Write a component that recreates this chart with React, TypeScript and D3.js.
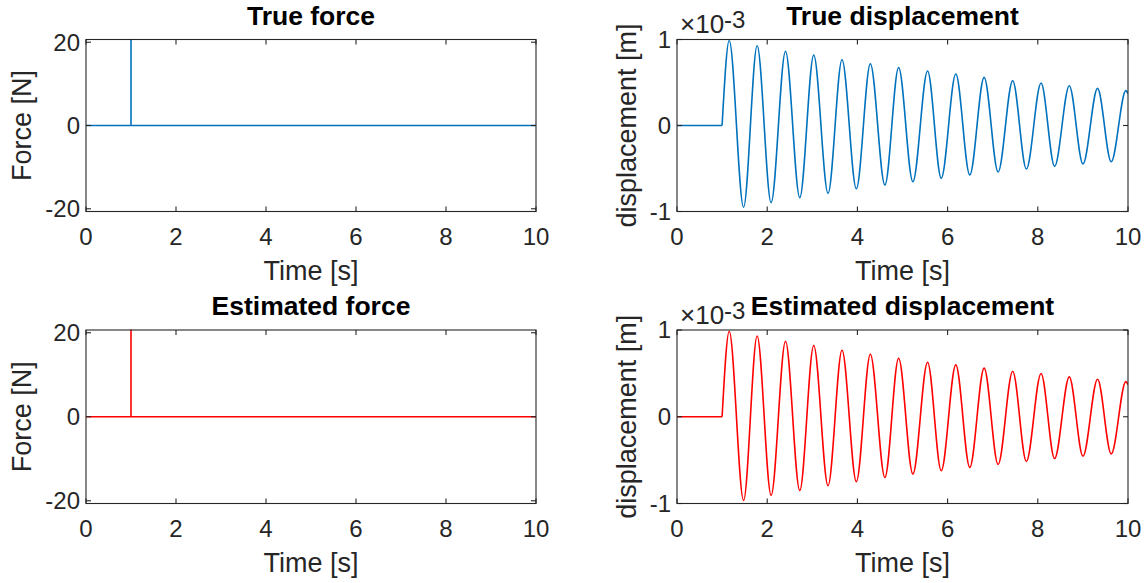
import React from 'react';
import * as d3 from 'd3';

// ---------- data ----------
const timeTicks = [0, 2, 4, 6, 8, 10];
const forceTicks = [-20, 0, 20];
const dispTicks = [-1, 0, 1]; // in units of 1e-3 m
const forceLimit = 20.65;
const dispLimit = 1;

const forceTime = [0, 1, 1, 1, 10];
const trueForce = [0, 0, 20.65, 0, 0];
const estForce = [0, 0, 20.65, 0, 0];

// extrema of the displacement response (x 1e-3 m)
const dispTime = [0, 1, 1.158, 1.476, 1.777, 2.087, 2.406, 2.722, 3.032, 3.349, 3.659, 3.977, 4.287, 4.61,
  4.914, 5.23, 5.556, 5.859, 6.182, 6.492, 6.81, 7.12, 7.443, 7.747, 8.072, 8.373, 8.698, 9.002, 9.325, 9.628, 9.953, 10];
const trueDisp = [0, 0, 0.988, -0.95, 0.927, -0.897, 0.864, -0.839, 0.818, -0.788, 0.765, -0.735, 0.718, -0.692,
  0.674, -0.654, 0.633, -0.614, 0.598, -0.576, 0.56, -0.541, 0.522, -0.506, 0.494, -0.475, 0.463, -0.448, 0.432, -0.422, 0.405, 0.37];
const estDisp = [0, 0, 0.985, -0.965, 0.931, -0.905, 0.87, -0.85, 0.821, -0.795, 0.767, -0.748, 0.721, -0.7,
  0.675, -0.66, 0.629, -0.622, 0.598, -0.584, 0.56, -0.55, 0.525, -0.515, 0.499, -0.482, 0.46, -0.455, 0.433, -0.428, 0.405, 0.37];

const FONT = "'Liberation Sans', Arial, Helvetica, sans-serif";
const AX = '#262626';

type PanelProps = {
  id: string;
  x0: number; x1: number; y0: number; y1: number;
  yLimit: number; yTicks: number[];
  t: number[]; v: number[];
  color: string; title: string; ylabel: string;
  exponent?: boolean; oscill?: boolean;
  ylabelX: number;
};

function Panel(p: PanelProps) {
  const xs = d3.scaleLinear().domain([0, 10]).range([p.x0, p.x1]);
  const ys = d3.scaleLinear().domain([-p.yLimit, p.yLimit]).range([p.y1, p.y0]);
  const pts: [number, number][] = p.t.map((tt, i) => [tt, p.v[i]]);
  let paths: string[] = [];
  if (p.oscill) {
    const flat = d3.line<[number, number]>().x(d => xs(d[0])).y(d => ys(d[1])).curve(d3.curveLinear);
    const osc = d3.line<[number, number]>().x(d => xs(d[0])).y(d => ys(d[1])).curve(d3.curveMonotoneX);
    paths = [flat(pts.slice(0, 2)) || '', osc(pts.slice(1)) || ''];
  } else {
    const ln = d3.line<[number, number]>().x(d => xs(d[0])).y(d => ys(d[1]));
    paths = [ln(pts) || ''];
  }
  const tl = 5;
  const cx = (p.x0 + p.x1) / 2;
  const cy = (p.y0 + p.y1) / 2;
  return (
    <g>
      <defs>
        <clipPath id={p.id}>
          <rect x={p.x0} y={p.y0 - 1} width={p.x1 - p.x0} height={p.y1 - p.y0 + 2} />
        </clipPath>
      </defs>
      <g clipPath={`url(#${p.id})`}>
        {paths.map((d, i) => (
          <path key={i} d={d} fill="none" stroke={p.color} strokeWidth={1.6} strokeLinejoin="round" />
        ))}
      </g>
      <rect x={p.x0} y={p.y0} width={p.x1 - p.x0} height={p.y1 - p.y0} fill="none" stroke={AX} strokeWidth={1.1} />
      {timeTicks.map(tk => (
        <g key={'x' + tk}>
          <line x1={xs(tk)} x2={xs(tk)} y1={p.y1} y2={p.y1 - tl} stroke={AX} strokeWidth={1.1} />
          <line x1={xs(tk)} x2={xs(tk)} y1={p.y0} y2={p.y0 + tl} stroke={AX} strokeWidth={1.1} />
          <text x={xs(tk)} y={p.y1 + 33} textAnchor="middle" fontFamily={FONT} fontSize={24} fill={AX}>{tk}</text>
        </g>
      ))}
      {p.yTicks.map(tk => (
        <g key={'y' + tk}>
          <line x1={p.x0} x2={p.x0 + tl} y1={ys(tk)} y2={ys(tk)} stroke={AX} strokeWidth={1.1} />
          <line x1={p.x1} x2={p.x1 - tl} y1={ys(tk)} y2={ys(tk)} stroke={AX} strokeWidth={1.1} />
          <text x={p.x0 - 6} y={ys(tk)} dy="0.35em" textAnchor="end" fontFamily={FONT} fontSize={24} fill={AX}>{tk}</text>
        </g>
      ))}
      <text x={cx} y={p.y1 + 68} textAnchor="middle" fontFamily={FONT} fontSize={27} fill={AX}>Time [s]</text>
      <text transform={`translate(${p.ylabelX},${cy}) rotate(-90)`} textAnchor="middle" fontFamily={FONT} fontSize={27} fill={AX}>{p.ylabel}</text>
      <text x={cx} y={p.y0 - 15} textAnchor="middle" fontFamily={FONT} fontSize={26.5} fontWeight="bold" fill="#000">{p.title}</text>
      {p.exponent && (
        <text x={p.x0 + 3} y={p.y0 - 6.5} fontFamily={FONT} fontSize={26} fill={AX}>
          ×10<tspan dy={-5} fontSize={24}>-3</tspan>
        </text>
      )}
    </g>
  );
}

export default function App() {
  const L = { x0: 86, x1: 536 };
  const R = { x0: 677, x1: 1128 };
  const T = { y0: 39.5, y1: 211.5 };
  const B = { y0: 330, y1: 503.5 };
  return (
    <svg width={1148} height={583} style={{ position: 'absolute', left: 0, top: 0, background: '#fff' }}>
      <rect width={1148} height={583} fill="#fff" />
      <Panel id="c1" {...L} {...T} yLimit={forceLimit} yTicks={forceTicks} t={forceTime} v={trueForce}
        color="#0072BD" title="True force" ylabel="Force [N]" ylabelX={31} />
      <Panel id="c2" {...R} {...T} yLimit={dispLimit} yTicks={dispTicks} t={dispTime} v={trueDisp}
        color="#0072BD" title="True displacement" ylabel="displacement [m]" ylabelX={636} exponent oscill />
      <Panel id="c3" {...L} {...B} yLimit={forceLimit} yTicks={forceTicks} t={forceTime} v={estForce}
        color="#FF0000" title="Estimated force" ylabel="Force [N]" ylabelX={31} />
      <Panel id="c4" {...R} {...B} yLimit={dispLimit} yTicks={dispTicks} t={dispTime} v={estDisp}
        color="#FF0000" title="Estimated displacement" ylabel="displacement [m]" ylabelX={636} exponent oscill />
    </svg>
  );
}
